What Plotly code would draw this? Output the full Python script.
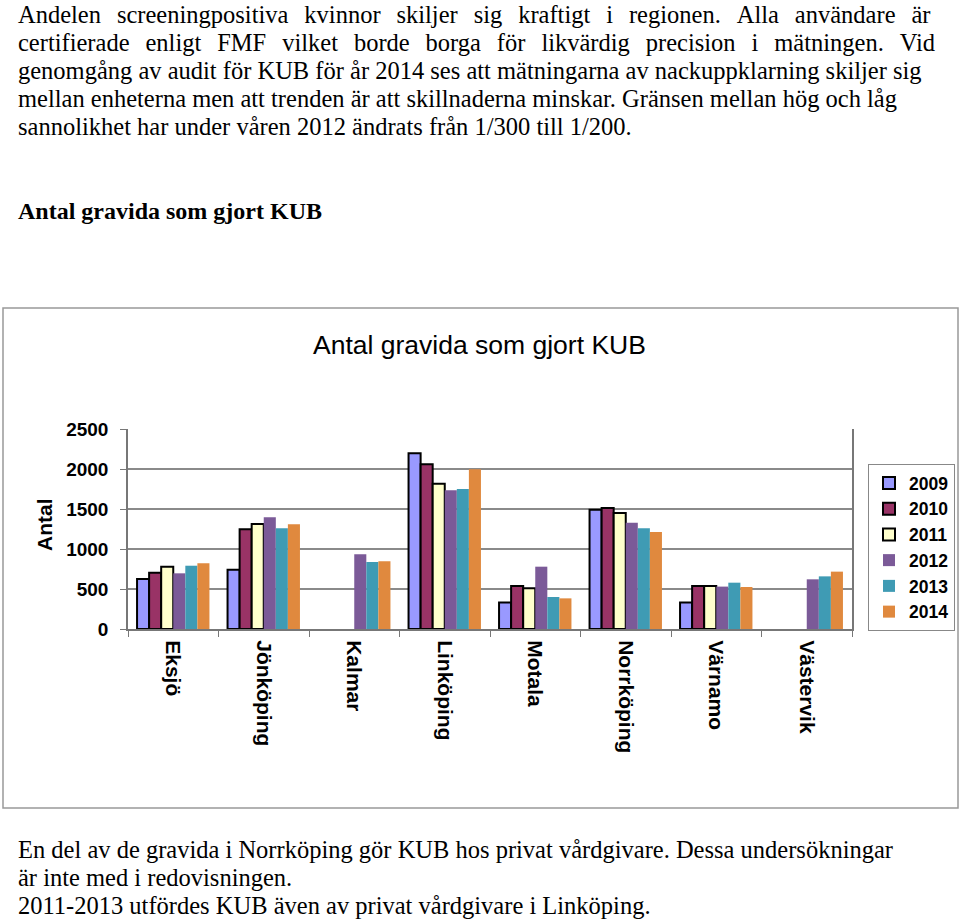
import plotly.graph_objects as go

W, H = 960, 921

categories = ["Eksjö", "Jönköping", "Kalmar", "Linköping", "Motala", "Norrköping", "Värnamo", "Västervik"]
years = ["2009", "2010", "2011", "2012", "2013", "2014"]

v2009 = [625, 740, None, 2196, 330, 1492, 330, None]
v2010 = [704, 1246, None, 2058, 537, 1512, 537, None]
v2011 = [779, 1312, None, 1817, 508, 1450, 537, None]
v2012 = [696, 1396, 933, 1733, 779, 1329, 530, 621]
v2013 = [791, 1258, 837, 1750, 400, 1258, 579, 658]
v2014 = [821, 1308, 846, 1996, 383, 1212, 525, 717]
series = [v2009, v2010, v2011, v2012, v2013, v2014]

colors = ["#9999FF", "#993366", "#FFFFCC", "#7B5A98", "#3F9BB4", "#E0893E"]
outlined = [True, True, True, False, False, False]

body_lines = [
    "Andelen screeningpositiva kvinnor skiljer sig kraftigt i regionen. Alla användare är",
    "certifierade enligt FMF vilket borde borga för likvärdig precision i mätningen. Vid",
    "genomgång av audit för KUB för år 2014 ses att mätningarna av nackuppklarning skiljer sig",
    "mellan enheterna men att trenden är att skillnaderna minskar. Gränsen mellan hög och låg",
    "sannolikhet har under våren 2012 ändrats från 1/300 till 1/200.",
]
justified = [True, True, False, False, False]
heading = "Antal gravida som gjort KUB"
chart_title = "Antal gravida som gjort KUB"
y_title = "Antal"
foot_lines = [
    "En del av de gravida i Norrköping gör KUB hos privat vårdgivare. Dessa undersökningar",
    "är inte med i redovisningen.",
    "2011-2013 utfördes KUB även av privat vårdgivare i Linköping.",
]

def px(x):
    return x / W

def py(y):
    return 1 - y / H

fig = go.Figure()
for name, vals, col, ol in zip(years, series, colors, outlined):
    fig.add_trace(go.Bar(
        x=categories, y=vals, name=name,
        marker=dict(color=col,
                    line=dict(color="black" if ol else col, width=2 if ol else 0)),
    ))

annotations = []
serif = "Liberation Serif, Times New Roman, serif"
sans = "Liberation Sans, Arial, sans-serif"
for t, j, yy in zip(body_lines, justified, [14, 42, 70, 98, 126]):
    if j:
        t = t.replace(" ", " \u2009\u2009")
    annotations.append(dict(text=t, x=px(16), y=py(yy), xref="paper", yref="paper",
                            xanchor="left", yanchor="middle", showarrow=False,
                            font=dict(family=serif, size=24.5, color="black")))
annotations.append(dict(text="<b>" + heading + "</b>", x=px(16), y=py(211), xref="paper", yref="paper",
                        xanchor="left", yanchor="middle", showarrow=False,
                        font=dict(family=serif, size=24, color="black")))
for t, yy in zip(foot_lines, [849, 877, 905]):
    annotations.append(dict(text=t, x=px(16), y=py(yy), xref="paper", yref="paper",
                            xanchor="left", yanchor="middle", showarrow=False,
                            font=dict(family=serif, size=24.5, color="black")))
annotations.append(dict(text=chart_title, x=px(479), y=py(345), xref="paper", yref="paper",
                        xanchor="center", yanchor="middle", showarrow=False,
                        font=dict(family=sans, size=26.5, color="black")))
annotations.append(dict(text="<b>" + y_title + "</b>", x=px(44), y=py(525), xref="paper", yref="paper",
                        xanchor="center", yanchor="middle", showarrow=False, textangle=-90,
                        font=dict(family=sans, size=21, color="black")))

fig.update_layout(
    width=W, height=H, autosize=False,
    margin=dict(l=0, r=0, t=0, b=0, pad=0, autoexpand=False),
    paper_bgcolor="white", plot_bgcolor="white",
    barmode="group", bargap=0.2, bargroupgap=0,
    showlegend=True,
    legend=dict(x=px(868), y=py(464), xanchor="left", yanchor="top",
                bgcolor="white", bordercolor="#888888", borderwidth=1,
                font=dict(family=sans, size=17.5, color="black", weight="bold"),
                itemwidth=30, tracegroupgap=0),
    annotations=annotations,
    shapes=[dict(type="rect", xref="paper", yref="paper",
                 x0=px(3), x1=px(958), y0=py(808), y1=py(308),
                 line=dict(color="#999999", width=1.5), layer="below")],
    xaxis=dict(domain=[px(128), px(852)], type="category", automargin=False,
               showline=True, linecolor="#777777", linewidth=2,
               ticks="outside", tickson="boundaries", ticklen=6, tickcolor="#777777",
               tickangle=90, showgrid=False, ticklabelstandoff=5,
               tickfont=dict(family=sans, size=21, color="black", weight="bold")),
    yaxis=dict(domain=[py(629), py(429)], range=[0, 2500], dtick=500, automargin=False,
               showline=True, linecolor="#777777", linewidth=1.5, mirror=True,
               ticks="outside", ticklen=6, tickcolor="#777777",
               showgrid=True, gridcolor="#8a8a8a", gridwidth=1.5, zeroline=False,
               ticklabelstandoff=8,
               tickfont=dict(family=sans, size=19, color="black", weight="bold")),
)

fig.write_html("out.html")
